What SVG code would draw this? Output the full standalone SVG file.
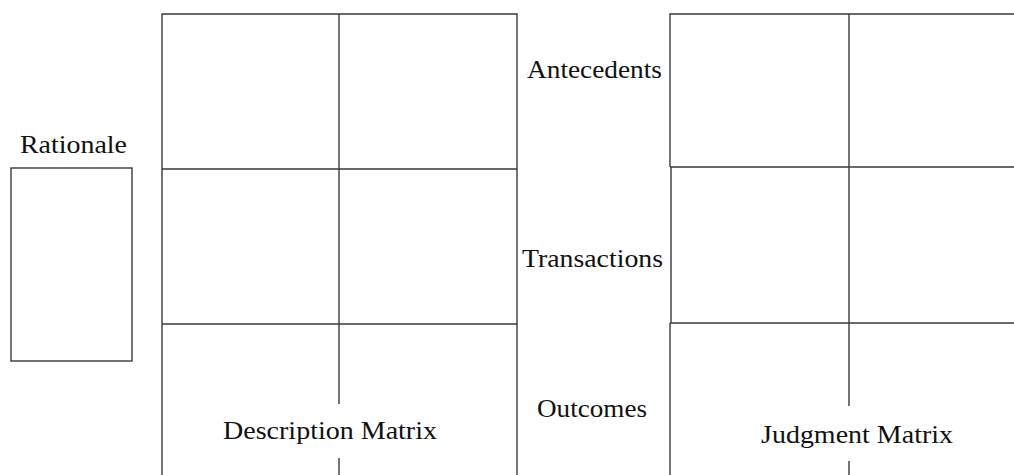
<svg xmlns="http://www.w3.org/2000/svg" width="1014" height="475" viewBox="0 0 1014 475">
  <style>
    .frame { fill: none; stroke: #3a3a3a; stroke-width: 1.4; }
    .grid { stroke: #3a3a3a; stroke-width: 1.4; fill: none; }
    .label { font-family: "Liberation Serif", "Times New Roman", serif; font-size: 26px; fill: #111; }
  </style>
  <rect width="1014" height="475" fill="#ffffff"/>

  <!-- Rationale box -->
  <g id="rationale">
    <text class="label" x="20" y="153" textLength="107" lengthAdjust="spacingAndGlyphs">Rationale</text>
    <rect class="frame" x="11" y="168" width="121" height="193"/>
  </g>

  <!-- Description matrix: 3 rows x 2 columns, open at the bottom -->
  <g id="description-matrix">
    <path class="grid" d="M162,480 V14 H517 V480"/>
    <path class="grid" d="M162,169 H517 M162,324 H517"/>
    <path class="grid" d="M339,14 V404 M339,458 V480"/>
    <text class="label" x="223" y="439" textLength="214" lengthAdjust="spacingAndGlyphs">Description Matrix</text>
  </g>

  <!-- Row labels between the matrices -->
  <g id="row-labels">
    <text class="label" x="527" y="78" textLength="135" lengthAdjust="spacingAndGlyphs">Antecedents</text>
    <text class="label" x="522" y="267" textLength="141" lengthAdjust="spacingAndGlyphs">Transactions</text>
    <text class="label" x="537" y="417" textLength="110" lengthAdjust="spacingAndGlyphs">Outcomes</text>
  </g>

  <!-- Judgment matrix: runs off the right edge -->
  <g id="judgment-matrix">
    <path class="grid" d="M1020,14 H670 V167"/>
    <path class="grid" d="M671,167 V323"/>
    <path class="grid" d="M670,323 V480"/>
    <path class="grid" d="M670,167 H1020 M670,323 H1020"/>
    <path class="grid" d="M849,14 V406 M849,461 V480"/>
    <text class="label" x="761" y="443" textLength="192" lengthAdjust="spacingAndGlyphs">Judgment Matrix</text>
  </g>
</svg>
